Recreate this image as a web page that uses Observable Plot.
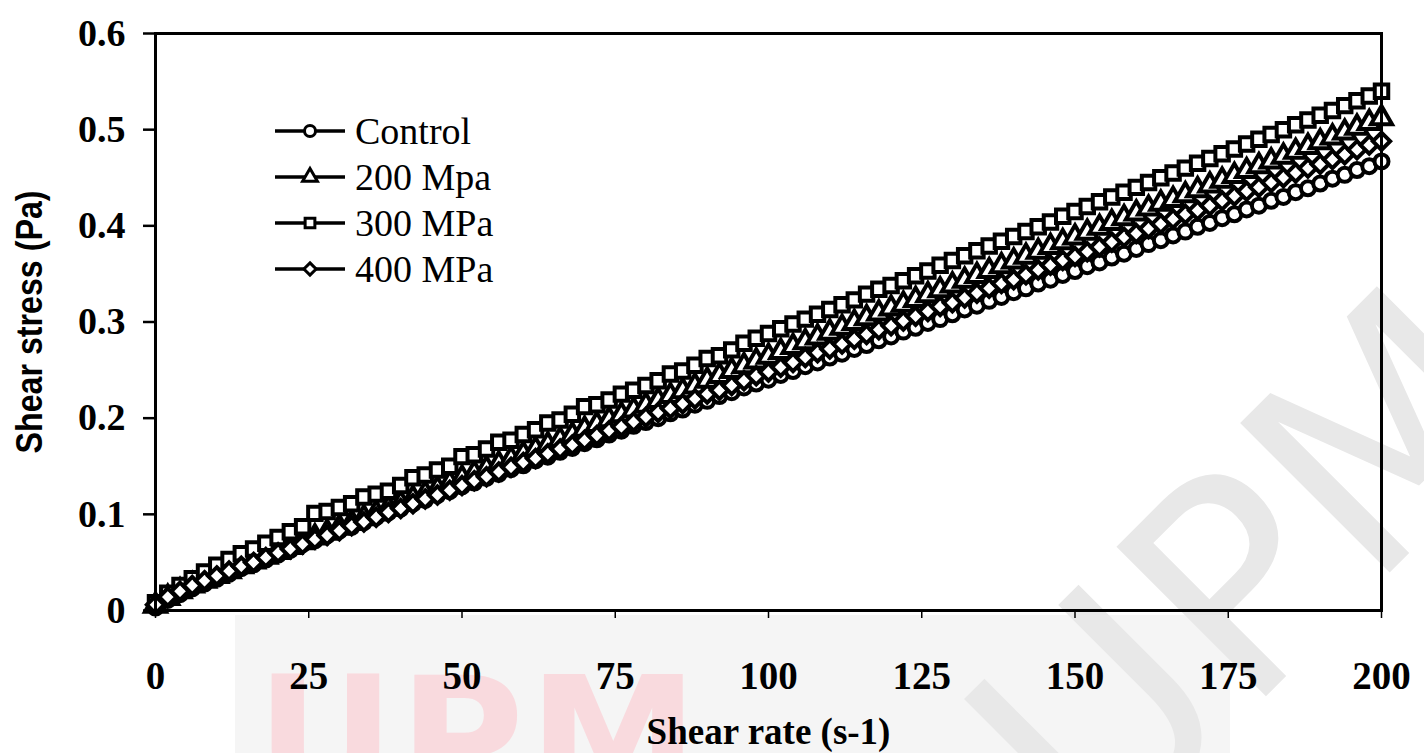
<!DOCTYPE html>
<html>
<head>
<meta charset="utf-8">
<script src="https://cdn.jsdelivr.net/npm/d3@7"></script>
<script src="https://cdn.jsdelivr.net/npm/@observablehq/plot@0.6"></script>
<style>
  html, body { margin: 0; padding: 0; background: #fff; }
  #wrap { position: relative; width: 1424px; height: 753px; overflow: hidden; background: #fff; }
  .wm { position: absolute; pointer-events: none; white-space: nowrap; line-height: 1; }
  #band { left: 235px; top: 615px; width: 995px; height: 140px; background: #f5f5f5; }
  #wmRed { left: 256px; top: 640px; font: bold 171px "DejaVu Sans", sans-serif; color: #f9dade; letter-spacing: 4px; }
  #wmGrey { left: 1250px; top: 570px; font: 290px "DejaVu Sans", sans-serif; color: #e8e8e8;
            transform: translate(-50%, -50%) rotate(-45deg); }
  #chart { position: absolute; left: 0; top: 0; }
  #legend { position: absolute; left: 275px; top: 108px; font: 38px "Liberation Serif", serif; color: #000; }
  #legend .row { display: flex; align-items: center; height: 46px; }
  #legend svg { display: block; margin-right: 10px; }
  g[aria-label="y-axis label"] text {
    font-family: "Liberation Sans Narrow", "Liberation Sans", sans-serif;
    font-size: 37px; font-weight: bold;
  }
  g[aria-label="x-axis label"] text {
    font-family: "Liberation Serif", serif; font-size: 37px; font-weight: bold;
  }
</style>
</head>
<body>
<div id="wrap">
  <div class="wm" id="band"></div>
  <div class="wm" id="wmRed">UPM</div>
  <div class="wm" id="wmGrey">UPM</div>
  <div id="chart"></div>
  <div id="legend"></div>
</div>
<script>
// Shear rate sweep (s-1)
const shearRate = [
  0, 2, 4, 6, 8, 10, 12, 14, 16, 18,
  20, 22, 24, 26, 28, 30, 32, 34, 36, 38,
  40, 42, 44, 46, 48, 50, 52, 54, 56, 58,
  60, 62, 64, 66, 68, 70, 72, 74, 76, 78,
  80, 82, 84, 86, 88, 90, 92, 94, 96, 98,
  100, 102, 104, 106, 108, 110, 112, 114, 116, 118,
  120, 122, 124, 126, 128, 130, 132, 134, 136, 138,
  140, 142, 144, 146, 148, 150, 152, 154, 156, 158,
  160, 162, 164, 166, 168, 170, 172, 174, 176, 178,
  180, 182, 184, 186, 188, 190, 192, 194, 196, 198,
  200
];

// Shear stress (Pa) for each treatment
const control = [
  0.003, 0.011, 0.017, 0.023, 0.028, 0.033, 0.038, 0.044, 0.048, 0.053,
  0.058, 0.063, 0.069, 0.073, 0.078, 0.083, 0.087, 0.092, 0.097, 0.102,
  0.106, 0.111, 0.115, 0.120, 0.124, 0.129, 0.133, 0.138, 0.142, 0.147,
  0.151, 0.156, 0.160, 0.165, 0.169, 0.174, 0.178, 0.183, 0.187, 0.192,
  0.196, 0.200, 0.205, 0.209, 0.214, 0.218, 0.223, 0.227, 0.232, 0.236,
  0.240, 0.245, 0.249, 0.254, 0.258, 0.263, 0.267, 0.272, 0.276, 0.281,
  0.285, 0.290, 0.294, 0.299, 0.303, 0.308, 0.313, 0.317, 0.322, 0.326,
  0.331, 0.335, 0.340, 0.344, 0.349, 0.353, 0.358, 0.362, 0.367, 0.371,
  0.376, 0.381, 0.385, 0.390, 0.394, 0.399, 0.403, 0.408, 0.412, 0.417,
  0.421, 0.426, 0.430, 0.435, 0.439, 0.444, 0.449, 0.453, 0.458, 0.462,
  0.467
];
const mpa200 = [
  0.005, 0.013, 0.020, 0.026, 0.031, 0.036, 0.041, 0.046, 0.051, 0.056,
  0.061, 0.066, 0.071, 0.076, 0.081, 0.086, 0.091, 0.096, 0.101, 0.106,
  0.111, 0.116, 0.121, 0.126, 0.132, 0.137, 0.142, 0.147, 0.152, 0.157,
  0.162, 0.167, 0.172, 0.177, 0.182, 0.188, 0.193, 0.198, 0.203, 0.208,
  0.213, 0.218, 0.223, 0.228, 0.233, 0.239, 0.244, 0.249, 0.254, 0.259,
  0.264, 0.269, 0.274, 0.279, 0.284, 0.289, 0.294, 0.299, 0.304, 0.309,
  0.314, 0.318, 0.323, 0.328, 0.333, 0.338, 0.343, 0.348, 0.353, 0.358,
  0.363, 0.368, 0.373, 0.378, 0.383, 0.388, 0.393, 0.398, 0.403, 0.408,
  0.413, 0.418, 0.423, 0.427, 0.432, 0.437, 0.442, 0.447, 0.452, 0.457,
  0.462, 0.467, 0.472, 0.477, 0.482, 0.487, 0.492, 0.497, 0.502, 0.507,
  0.512
];
const mpa300 = [
  0.008, 0.018, 0.026, 0.033, 0.040, 0.047, 0.053, 0.059, 0.064, 0.070,
  0.076, 0.082, 0.087, 0.101, 0.103, 0.107, 0.111, 0.118, 0.121, 0.124,
  0.130, 0.138, 0.141, 0.146, 0.150, 0.160, 0.162, 0.168, 0.175, 0.177,
  0.183, 0.188, 0.195, 0.198, 0.204, 0.212, 0.214, 0.219, 0.225, 0.229,
  0.234, 0.239, 0.246, 0.249, 0.255, 0.262, 0.265, 0.271, 0.278, 0.283,
  0.288, 0.293, 0.298, 0.303, 0.308, 0.313, 0.318, 0.323, 0.329, 0.334,
  0.338, 0.343, 0.348, 0.353, 0.359, 0.364, 0.369, 0.374, 0.379, 0.384,
  0.389, 0.394, 0.399, 0.404, 0.410, 0.415, 0.420, 0.425, 0.430, 0.435,
  0.440, 0.445, 0.450, 0.455, 0.460, 0.465, 0.470, 0.475, 0.480, 0.485,
  0.490, 0.495, 0.500, 0.505, 0.510, 0.515, 0.520, 0.525, 0.530, 0.535,
  0.540
];
const mpa400 = [
  0.006, 0.014, 0.020, 0.026, 0.031, 0.036, 0.041, 0.046, 0.050, 0.055,
  0.060, 0.064, 0.069, 0.074, 0.078, 0.083, 0.088, 0.092, 0.097, 0.102,
  0.106, 0.111, 0.116, 0.120, 0.125, 0.130, 0.135, 0.139, 0.144, 0.149,
  0.154, 0.158, 0.163, 0.168, 0.172, 0.177, 0.182, 0.187, 0.191, 0.196,
  0.201, 0.206, 0.210, 0.215, 0.220, 0.225, 0.229, 0.234, 0.239, 0.244,
  0.248, 0.253, 0.258, 0.263, 0.268, 0.272, 0.277, 0.282, 0.287, 0.292,
  0.296, 0.301, 0.306, 0.311, 0.316, 0.320, 0.325, 0.330, 0.335, 0.340,
  0.344, 0.349, 0.354, 0.359, 0.364, 0.368, 0.373, 0.378, 0.383, 0.388,
  0.392, 0.397, 0.402, 0.407, 0.412, 0.416, 0.421, 0.426, 0.431, 0.436,
  0.440, 0.445, 0.450, 0.455, 0.460, 0.464, 0.469, 0.474, 0.479, 0.484,
  0.488
];

const seriesNames = ["Control", "200 Mpa", "300 MPa", "400 MPa"];
const seriesValues = [control, mpa200, mpa300, mpa400];
const seriesSymbols = ["circle", "triangle", "square", "diamond2"];
const seriesRadius = [7, 7.8, 7.6, 7.8];

const xTicks = [0, 25, 50, 75, 100, 125, 150, 175, 200];
const yTicks = [0, 0.1, 0.2, 0.3, 0.4, 0.5, 0.6];

// Tidy rows, one per measurement
const rows = seriesNames.flatMap((name, i) =>
  shearRate.map((rate, j) => ({series: name, rate, stress: seriesValues[i][j]}))
);

const lineMarks = Plot.line(rows, {
  x: "rate", y: "stress", z: "series", stroke: "black", strokeWidth: 1.5
});
const dotMarks = seriesNames.map((name, i) =>
  Plot.dot(rows.filter(d => d.series === name), {
    x: "rate", y: "stress",
    symbol: () => seriesSymbols[i],
    r: seriesRadius[i],
    fill: "white", stroke: "black", strokeWidth: 4
  })
);

const chart = Plot.plot({
  width: 1424,
  height: 753,
  marginLeft: 155,
  marginRight: 43,
  marginTop: 33,
  marginBottom: 143,
  style: {background: "transparent", fontFamily: "Liberation Serif", overflow: "visible"},
  x: {domain: [0, 200]},
  y: {domain: [0, 0.6]},
  symbol: {type: "identity"},
  marks: [
    Plot.axisY(yTicks, {
      tickSize: 12, tickPadding: 18, strokeWidth: 2.5,
      tickFormat: d => d === 0 ? "0" : d.toFixed(1),
      fontSize: 38, fontWeight: "bold",
      label: "Shear stress (Pa)", labelAnchor: "center", labelOffset: 140, labelArrow: "none"
    }),
    Plot.axisX(xTicks, {
      tickSize: 8, tickPadding: 43, strokeWidth: 1.5,
      tickFormat: d => String(d),
      fontSize: 39, fontWeight: "bold",
      label: "Shear rate (s-1)", labelAnchor: "center", labelOffset: 133, labelArrow: "none"
    }),
    lineMarks,
    ...dotMarks,
    Plot.frame({stroke: "black", strokeWidth: 3})
  ]
});
document.getElementById("chart").appendChild(chart);

// Narrow the y-axis title to its condensed bold face
const yLabel = chart.querySelector('g[aria-label="y-axis label"] text');
if (yLabel) {
  yLabel.setAttribute("textLength", 263);
  yLabel.setAttribute("lengthAdjust", "spacingAndGlyphs");
}

// Legend: line with the series symbol, then its name
const legend = document.getElementById("legend");
seriesNames.forEach((name, i) => {
  const row = document.createElement("div");
  row.className = "row";
  const sym = d3.create("svg").attr("width", 70).attr("height", 46);
  sym.append("line").attr("x1", 0).attr("x2", 70).attr("y1", 23).attr("y2", 23)
    .attr("stroke", "black").attr("stroke-width", 3.5);
  const symbolType = {circle: d3.symbolCircle, triangle: d3.symbolTriangle,
                      square: d3.symbolSquare, diamond2: d3.symbolDiamond2}[seriesSymbols[i]];
  sym.append("path")
    .attr("d", d3.symbol(symbolType, Math.PI * 5.5 * 5.5)())
    .attr("transform", "translate(35,23)")
    .attr("fill", "white").attr("stroke", "black").attr("stroke-width", 3);
  row.appendChild(sym.node());
  const label = document.createElement("span");
  label.textContent = name;
  row.appendChild(label);
  legend.appendChild(row);
});
</script>
</body>
</html>
